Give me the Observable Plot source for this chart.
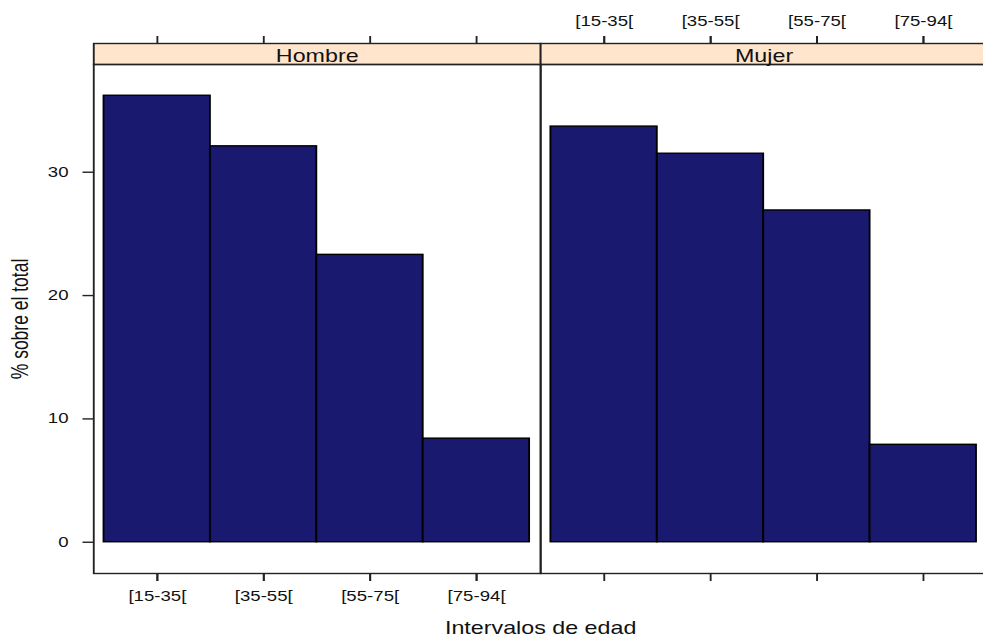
<!DOCTYPE html>
<html>
<head>
<meta charset="utf-8">
<script src="https://cdn.jsdelivr.net/npm/d3@7"></script>
<script src="https://cdn.jsdelivr.net/npm/@observablehq/plot@0.6"></script>
<style>
  html, body { margin: 0; padding: 0; background: #fff; }
  #wrap { width: 983px; height: 639px; overflow: hidden; }
</style>
</head>
<body>
<div id="wrap"></div>
<script>
// ---- data ----
const sexos = ["Hombre", "Mujer"];
const intervalos = ["[15-35[", "[35-55[", "[55-75[", "[75-94["];
const pctHombre = [36.2, 32.1, 23.3, 8.4];
const pctMujer = [33.7, 31.5, 26.9, 7.9];
const yTicks = [0, 10, 20, 30];
const xTitle = "Intervalos de edad";
const yTitle = "% sobre el total";

const data = [
  ...intervalos.map((k, i) => ({sexo: "Hombre", intervalo: k, pct: pctHombre[i]})),
  ...intervalos.map((k, i) => ({sexo: "Mujer", intervalo: k, pct: pctMujer[i]}))
];

// ---- layout (the original is horizontally stretched) ----
const S = 1.33;               // horizontal stretch of the picture
const W = 743, H = 639;
const mt = 64, mb = 66, ml = 69.17;
const frameH = H - mt - mb;
const strip = 21;

const maxV = d3.max(data, d => d.pct);
const yLo = -0.07 * maxV, yHi = 1.07 * maxV;

const txt = "#111";
const line = "#222";

const chart = Plot.plot({
  width: W,
  height: H,
  marginLeft: ml,
  marginRight: 0,
  marginTop: mt,
  marginBottom: mb,
  style: {fontFamily: "'Liberation Sans', Arial, sans-serif", fontSize: "14px", background: "white", color: txt},
  fx: {domain: sexos, padding: 0},
  x: {type: "band", domain: intervalos, paddingInner: 0, paddingOuter: 0.1},
  y: {domain: [yLo, yHi]},
  marks: [
    // strip
    Plot.frame({fill: "#ffe5cc", stroke: line, strokeWidth: 1.4, insetTop: -strip, insetBottom: frameH}),
    // panel
    Plot.frame({stroke: line, strokeWidth: 1.4}),
    Plot.barY(data, {fx: "sexo", x: "intervalo", y: "pct", fill: "#191970", stroke: "#000", strokeWidth: 1.4}),
    // bottom axis: ticks everywhere, labels on left panel
    Plot.axisX({anchor: "bottom", tickSize: 8, tickFormat: () => "", facetAnchor: null, label: null, stroke: line, strokeWidth: 1.4}),
    Plot.axisX({anchor: "bottom", tickSize: 8, tickPadding: 10, fontSize: 14, facetAnchor: "left", label: null, stroke: line, strokeWidth: 1.4, fill: txt}),
    // top axis: ticks everywhere, labels on right panel
    Plot.axisX({anchor: "top", dy: -strip, tickSize: 8, tickFormat: () => "", facetAnchor: null, label: null, stroke: line, strokeWidth: 1.4}),
    Plot.axisX({anchor: "top", dy: -strip, tickSize: 8, tickPadding: 9.3, fontSize: 14, facetAnchor: "right", label: null, stroke: line, strokeWidth: 1.4, fill: txt}),
    // y axis
    Plot.axisY({ticks: yTicks, tickSize: 8, tickPadding: 11, fontSize: 14, label: null, stroke: line, strokeWidth: 1.4, fill: txt}),
    // strip labels
    Plot.axisFx({anchor: "top", tickSize: 0, tickPadding: 2.5, fontSize: 17.5, label: null, fill: txt}),
    // axis titles
    Plot.text([yTitle], {text: d => d, frameAnchor: "left", rotate: -90, textAnchor: "middle", dx: -54.7, fontSize: 17.5, fill: txt, facetAnchor: "left"}),
    Plot.text([xTitle], {text: d => d, frameAnchor: "bottom-right", dy: 60.5, fontSize: 17.5, textAnchor: "middle", fill: txt, facetAnchor: "left"})
  ]
});

chart.setAttribute("preserveAspectRatio", "none");
chart.setAttribute("width", W * S);
chart.setAttribute("height", H);
chart.style.maxWidth = "none";
chart.style.width = (W * S) + "px";
chart.style.height = H + "px";
document.getElementById("wrap").appendChild(chart);
</script>
</body>
</html>
